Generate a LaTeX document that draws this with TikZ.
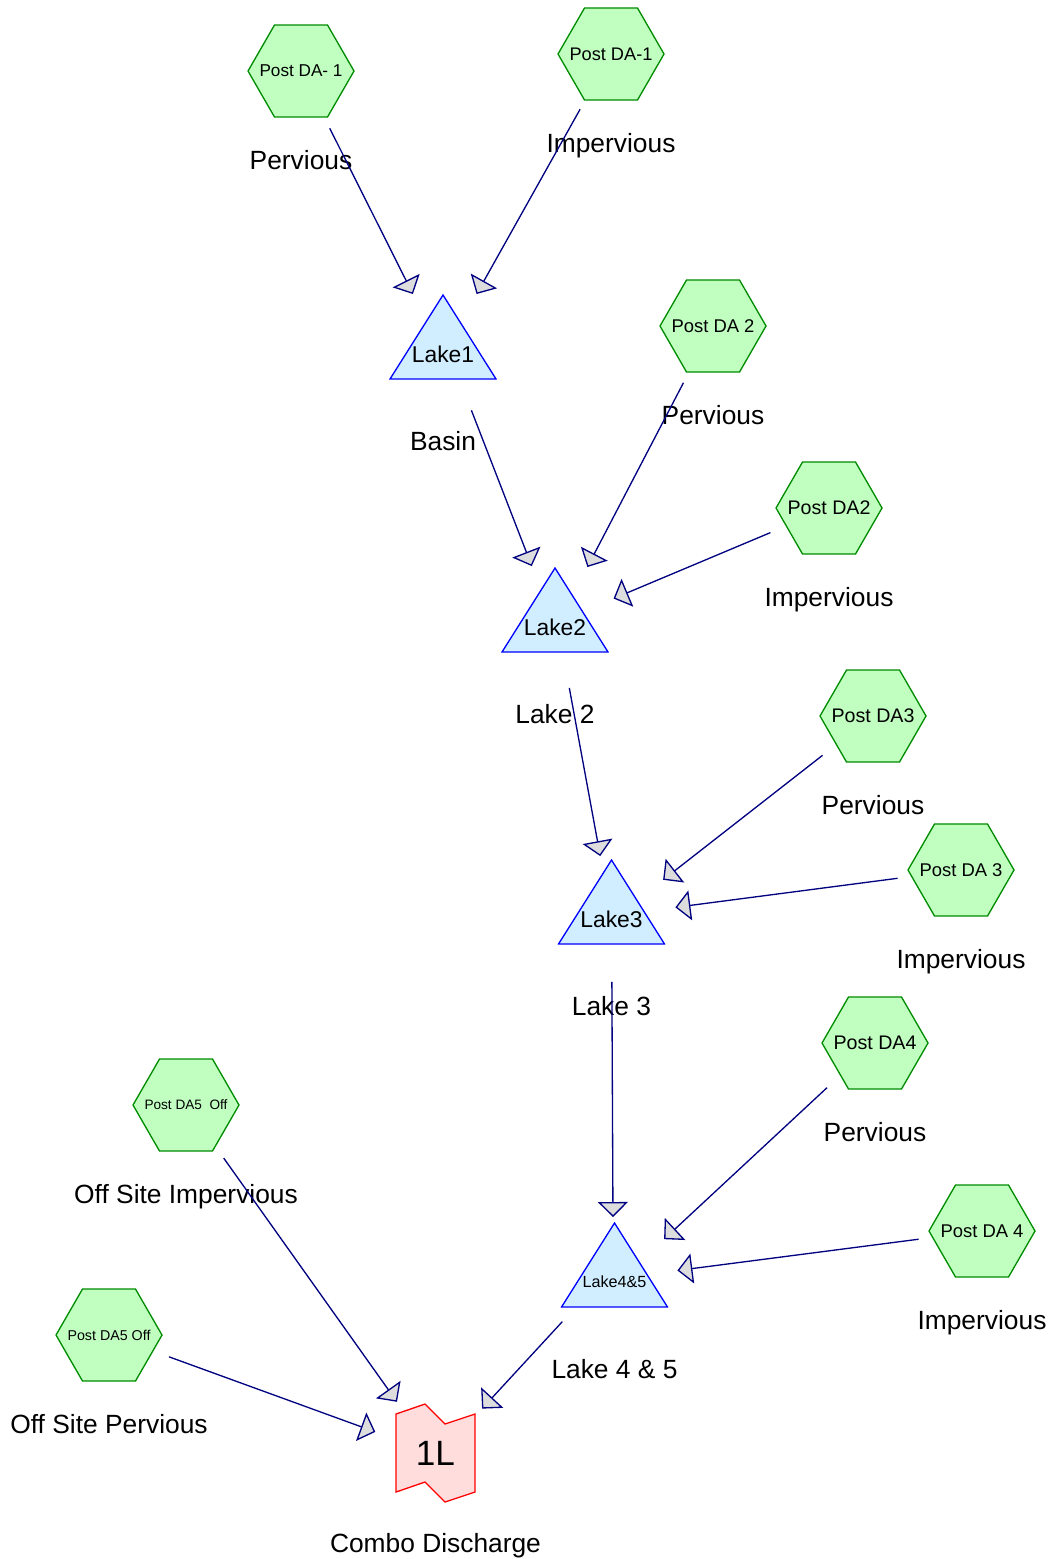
\documentclass[tikz,border=0pt]{standalone}
\usepackage{fontspec}
\setmainfont{Liberation Sans}
\usetikzlibrary{arrows.meta}

\definecolor{flowline}{RGB}{0,0,128}
\definecolor{headfill}{RGB}{221,221,221}
\definecolor{subfill}{RGB}{192,255,192}
\definecolor{subedge}{RGB}{0,140,0}
\definecolor{pondfill}{RGB}{208,238,255}
\definecolor{pondedge}{RGB}{0,0,255}
\definecolor{linkfill}{RGB}{255,221,221}
\definecolor{linkedge}{RGB}{255,0,0}

% squeeze a subcatchment name to the width of its hexagon
\newcommand{\fitname}[1]{\resizebox{1.66cm}{!}{#1}}
% point inside a node's box, in px from its top left corner
\newcommand{\inbox}[2]{([xshift=#1*0.02cm,yshift=-#2*0.02cm]path picture bounding box.north west)}

\begin{document}
\begin{tikzpicture}[x=0.02cm, y=-0.02cm,
        sub/.style={rectangle, minimum width=2.16cm, minimum height=1.88cm, inner sep=0pt, outer sep=0pt,
            path picture={\draw[subedge, fill=subfill, line width=0.75pt]
                \inbox{1}{47} -- \inbox{27.5}{1} -- \inbox{80.5}{1} -- \inbox{107}{47}
                -- \inbox{80.5}{93} -- \inbox{27.5}{93} -- cycle;}},
        pond/.style={rectangle, minimum width=2.16cm, minimum height=1.72cm, inner sep=0pt, outer sep=0pt,
            text height=28.5pt, text depth=0pt, font=\fontsize{13}{15}\selectfont,
            path picture={\draw[pondedge, fill=pondfill, line width=0.75pt]
                \inbox{1}{85} -- \inbox{107}{85} -- \inbox{54}{1} -- cycle;}},
        outlet/.style={rectangle, minimum width=1.62cm, minimum height=2cm, inner sep=0pt, outer sep=0pt,
            font=\fontsize{20}{24}\selectfont,
            path picture={\draw[linkedge, fill=linkfill, line width=0.75pt]
                \inbox{1}{11} -- \inbox{30}{1} -- \inbox{50}{21} -- \inbox{80}{11}
                -- \inbox{80}{89} -- \inbox{50}{99} -- \inbox{30}{79} -- \inbox{1}{89} -- cycle;}},
        tag/.style={font=\fontsize{15}{18}\selectfont, inner sep=0pt, text height=.75em, text depth=.25em},
        subtag/.style={tag, label distance=0.75cm},
        pondtag/.style={tag, label distance=1.13cm},
        outtag/.style={tag, label distance=0.71cm},
        flow/.style={draw=flowline, line width=0.75pt, -{Triangle[length=0.3cm, width=0.6cm, fill=headfill]}}
    ]
    \useasboundingbox (0,0) rectangle (1052,1559);

    % ---- SUBCATCHMENTS ----
    \node[sub, label={[subtag]below:Pervious}] (pda1p) at (301,71) {\fitname{Post DA- 1}};
    \node[sub, label={[subtag]below:Impervious}] (pda1i) at (611,54) {\fitname{Post DA-1}};
    \node[sub, label={[subtag]below:Pervious}] (pda2p) at (713,326) {\fitname{Post DA 2}};
    \node[sub, label={[subtag]below:Impervious}] (pda2i) at (829,508) {\fitname{Post DA2}};
    \node[sub, label={[subtag]below:Pervious}] (pda3p) at (873,716) {\fitname{Post DA3}};
    \node[sub, label={[subtag]below:Impervious}] (pda3i) at (961,870) {\fitname{Post DA 3}};
    \node[sub, label={[subtag]below:Pervious}] (pda4p) at (875,1043) {\fitname{Post DA4}};
    \node[sub, label={[subtag]below:Impervious}] (pda4i) at (982,1231) {\fitname{Post DA 4}};
    \node[sub, label={[subtag]below:Off Site Impervious}] (pda5i) at (186,1105) {\fitname{Post DA5\ \ Off}};
    \node[sub, label={[subtag]below:Off Site Pervious}] (pda5p) at (109,1335) {\fitname{Post DA5 Off}};

    % ---- PONDS AND OUTLET ----
    \node[pond, label={[pondtag]below:Basin}] (lake1) at (443,337) {Lake1};
    \node[pond, label={[pondtag]below:Lake 2}] (lake2) at (555,610) {Lake2};
    \node[pond, label={[pondtag]below:Lake 3}] (lake3) at (611.5,902) {Lake3};
    \node[pond, text height=25.8pt, font=\fontsize{9.2}{11}\selectfont,
        label={[pondtag]below:Lake 4 \& 5}] (lake45) at (614.5,1265) {Lake4\&5};
    \node[outlet, label={[outtag]below:Combo Discharge}] (out) at (435.5,1453) {1L};

    % ---- FLOWS ----
    \draw[flow, shorten <=0.23cm] (pda1p) -- (lake1.125);
    \draw[flow, shorten <=0.19cm] (pda1i) -- (lake1.52);
    \draw[flow, shorten <=0.65cm, shorten >=0.02cm] (lake1) -- (lake2.118);
    \draw[flow, shorten <=0.22cm] (pda2p) -- (lake2.53);
    \draw[flow, shorten <=0.1cm, shorten >=0.1cm] (pda2i) -- (lake2.10);
    \draw[flow, shorten <=0.71cm, shorten >=0.06cm] (lake2) -- (lake3.104);
    \draw[flow, shorten <=-0.09cm, shorten >=-0.06cm] (pda3p) -- (lake3.24);
    \draw[flow, shorten <=0.19cm, shorten >=0.2cm] (pda3i) -- (lake3.-7);
    \draw[flow, shorten <=0.74cm, shorten >=0.1cm] (lake3) -- (lake45.92);
    \draw[flow, shorten <=-0.07cm, shorten >=-0.12cm] (pda4p) -- (lake45.29);
    \draw[flow, shorten <=0.19cm, shorten >=0.18cm] (pda4i) -- (lake45.-7);
    \draw[flow, shorten <=0.37cm, shorten >=0.18cm] (lake45) -- (out.43);
    \draw[flow, shorten <=0.15cm, shorten >=0.03cm] (pda5i) -- (out.127);
    \draw[flow, shorten <=0.13cm, shorten >=0.42cm] (pda5p) -- (out.161);
\end{tikzpicture}
\end{document}
